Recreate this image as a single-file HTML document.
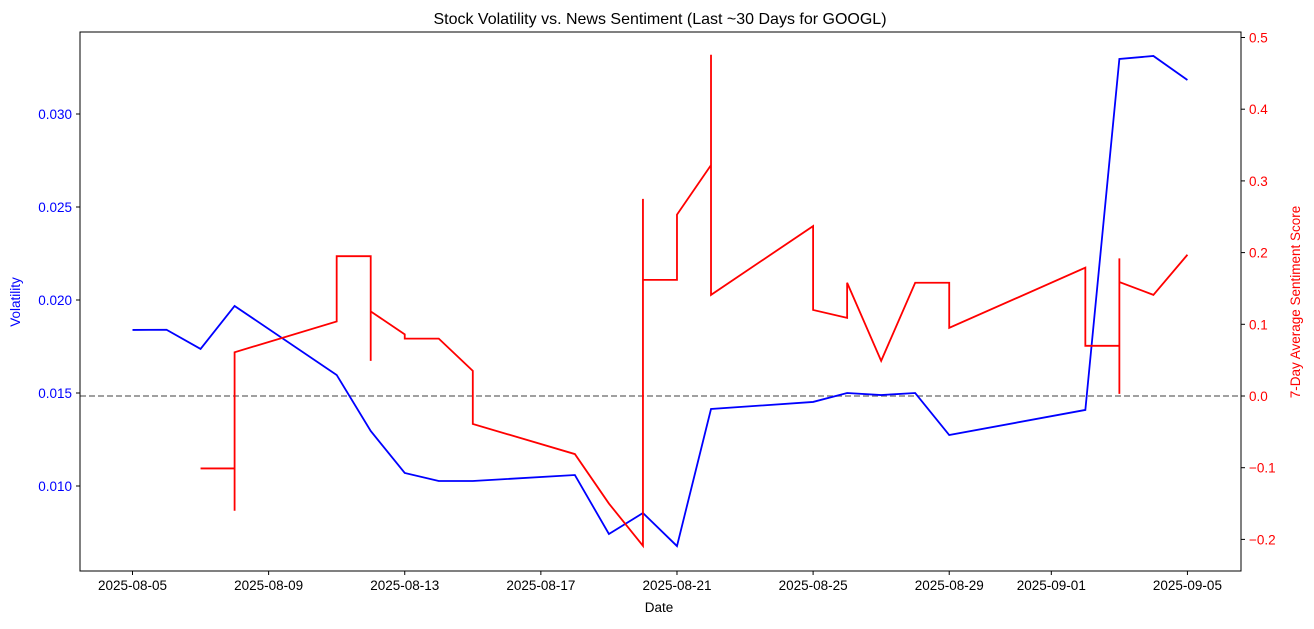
<!DOCTYPE html>
<html><head><meta charset="utf-8"><style>
body{margin:0;background:#fff;}
svg text{font-family:"Liberation Sans","DejaVu Sans",sans-serif;}
</style></head><body>
<svg id="chart" width="1314" height="624">
<rect width="1314" height="624" fill="#fff"/>
<text x="660" y="24" font-size="16" text-anchor="middle">Stock Volatility vs. News Sentiment (Last ~30 Days for GOOGL)</text>
<g id="xaxis"></g>
<g id="yleft"></g>
<g id="yright"></g>
<g id="plot"></g>
<rect x="80" y="32" width="1161" height="539" fill="none" stroke="#000" stroke-width="1"/>
<text x="659" y="612" font-size="13.5" text-anchor="middle">Date</text>
<text transform="translate(20,302) rotate(-90)" font-size="13.5" text-anchor="middle" fill="blue">Volatility</text>
<text transform="translate(1300,302) rotate(-90)" font-size="13.5" text-anchor="middle" fill="red">7-Day Average Sentiment Score</text>
</svg>
<script>
const xTickDays = [0,4,8,12,16,20,24,27,31];
const xTickLabels = ["2025-08-05","2025-08-09","2025-08-13","2025-08-17","2025-08-21","2025-08-25","2025-08-29","2025-09-01","2025-09-05"];
const leftTicks = [0.010,0.015,0.020,0.025,0.030];
const rightTicks = [-0.2,-0.1,0.0,0.1,0.2,0.3,0.4,0.5];
const volDays = [0,1,2,3,6,7,8,9,10,13,14,15,16,17,20,21,22,23,24,28,29,30,31];
const volValues = [0.01839,0.01840,0.01737,0.01968,0.01597,0.01296,0.0107,0.01027,0.01027,0.01059,0.00742,0.00855,0.00677,0.01414,0.01452,0.0150,0.01489,0.0150,0.01274,0.01409,0.03296,0.03312,0.03183];
const sentDays = [2,3,3,3,6,6,7,7,7,8,8,9,10,10,13,14,15,15,15,16,16,17,17,17,20,20,21,21,22,23,24,24,28,28,29,29,29,29,30,31];
const sentValues = [-0.101,-0.101,-0.16,0.061,0.104,0.195,0.195,0.049,0.118,0.086,0.08,0.08,0.035,-0.039,-0.081,-0.15,-0.209,0.275,0.162,0.162,0.253,0.322,0.476,0.141,0.237,0.12,0.109,0.158,0.049,0.158,0.158,0.095,0.179,0.07,0.07,0.192,0.003,0.159,0.141,0.197];
</script>
<script>
const NS="http://www.w3.org/2000/svg";
const xS=d=>132.5+d*34.03;
const yL=v=>486-(v-0.010)*18600;
const yR=s=>396-s*717;
function mk(tag,attrs,parent){const e=document.createElementNS(NS,tag);for(const k in attrs)e.setAttribute(k,attrs[k]);parent.appendChild(e);return e;}
const gx=document.getElementById('xaxis'),gl=document.getElementById('yleft'),gr=document.getElementById('yright'),gp=document.getElementById('plot');
xTickDays.forEach((d,i)=>{
 const t=mk('line',{x1:xS(d),x2:xS(d),y1:571,y2:575,stroke:'#000'},gx);
 
 
 const l=mk('text',{x:xS(d),y:590,'font-size':13.5,'text-anchor':'middle'},gx);l.textContent=xTickLabels[i];
 
 
});
leftTicks.forEach(v=>{
 const t=mk('line',{x1:76,x2:80,y1:yL(v),y2:yL(v),stroke:'#000'},gl);
 
 
 const l=mk('text',{x:72,y:yL(v)+5,'font-size':13.5,'text-anchor':'end',fill:'blue'},gl);l.textContent=v.toFixed(3);
 
 
});
rightTicks.forEach(v=>{
 const t=mk('line',{x1:1241,x2:1245,y1:yR(v),y2:yR(v),stroke:'#000'},gr);
 
 
 const l=mk('text',{x:1249,y:yR(v)+5,'font-size':13.5,fill:'red'},gr);l.textContent=(v<0?'\u2212'+Math.abs(v).toFixed(1):v.toFixed(1));
 
 
});
const zero=mk('line',{x1:80,x2:1241,y1:yR(0),y2:yR(0),stroke:'#808080','stroke-width':1.5,'stroke-dasharray':'6,3'},gp);


const vp=mk('polyline',{points:volDays.map((d,i)=>xS(d)+','+yL(volValues[i])).join(' '),fill:'none',stroke:'blue','stroke-width':1.8},gp);


const sp=mk('polyline',{points:sentValues.map((v,i)=>xS(sentDays[i])+','+yR(v)).join(' '),fill:'none',stroke:'red','stroke-width':1.8},gp);


</script>
</body></html>
